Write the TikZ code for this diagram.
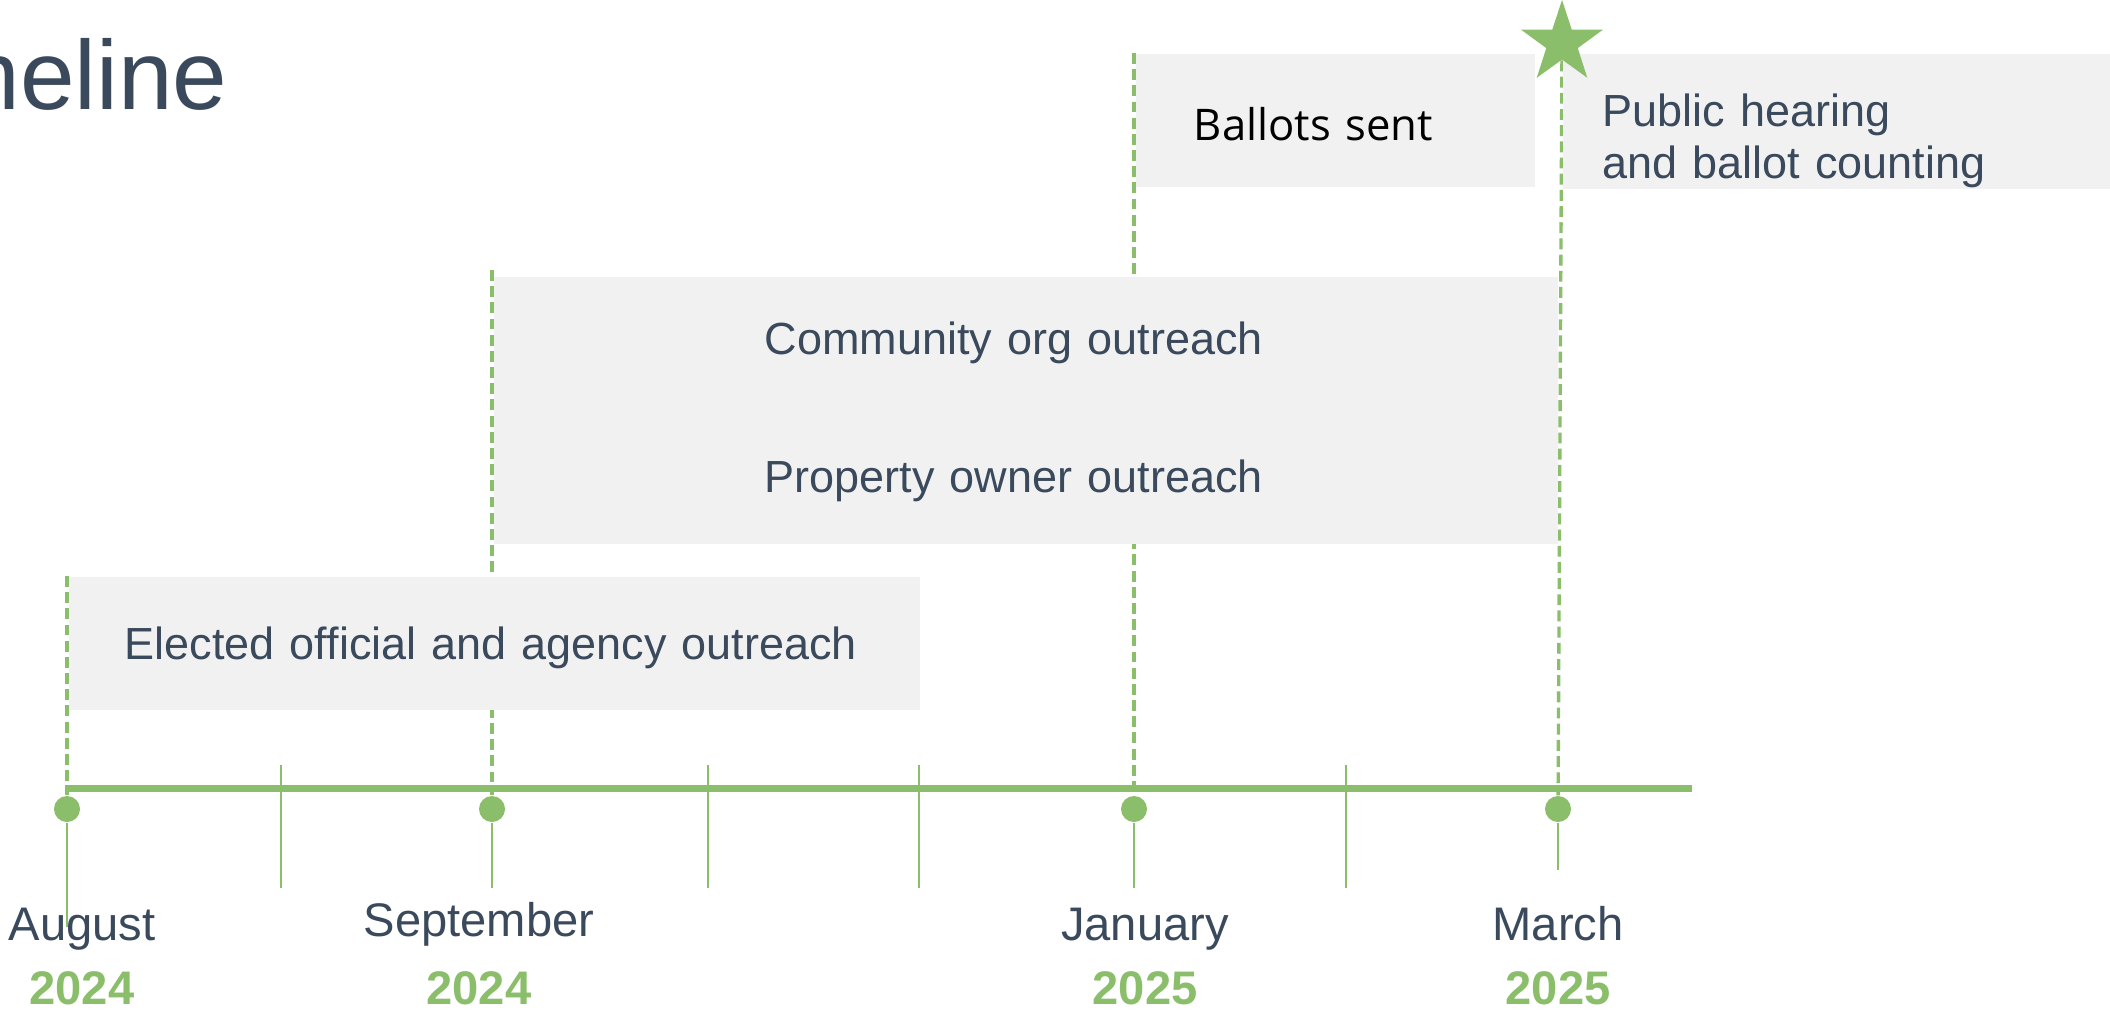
\documentclass[tikz,border=0pt]{standalone}
\usepackage{fontspec}
\setmainfont{Liberation Sans}
\newfontfamily\ballotfont{Open Sans}
\usetikzlibrary{shapes.geometric,backgrounds,positioning}

\definecolor{tlgreen}{HTML}{8BBE6A}
\definecolor{tltext}{HTML}{3A4A5C}
\definecolor{barfill}{HTML}{F1F1F1}
\def\bodyfont{\fontsize{12.8pt}{14.8pt}\selectfont}
\def\datefont{\fontsize{13.4pt}{16pt}\selectfont}
\def\datelbl#1#2#3#4#5{\node[monthlbl] (#1m) at (#2,#3) {#4}; \node[yearlbl] (#1y) at (#2,1004) {#5}}
\tikzstyle{bar}=[fill=barfill,anchor=north west,inner ysep=0pt,align=left,text=tltext,font=\bodyfont,text height=9.2pt,text depth=0pt]
\tikzstyle{guide}=[tlgreen,line width=0.95pt,dash pattern=on 3.1pt off 1.5pt]
\tikzstyle{tick}=[tlgreen,line width=0.71pt]
\tikzstyle{axisline}=[tlgreen,line width=2pt]
\tikzstyle{dot}=[circle,fill=tlgreen,minimum size=0.26cm,inner sep=0pt]
\tikzstyle{monthlbl}=[anchor=base,inner sep=0pt,text=tltext,font=\datefont]
\tikzstyle{yearlbl}=[anchor=base,inner sep=0pt,text=tlgreen,font=\datefont\bfseries]

\begin{document}
\begin{tikzpicture}[x=0.01cm,y=-0.01cm]
    \useasboundingbox (0,0) rectangle (2110,1009);
    \clip (0,0) rectangle (2110,1009);
    \node[anchor=base east,inner sep=0pt,text=tltext,font=\fontsize{27.9pt}{32pt}\selectfont] (title) at (228,109) {Timeline};

    % phases
    \node[bar,minimum width=8.51cm,minimum height=1.33cm,inner xsep=0.56cm,text width=7.39cm] (elect) at (68,576) {Elected official and agency outreach};
    \node[bar,minimum width=10.64cm,minimum height=1.33cm,inner xsep=2.71cm,text width=5.22cm,text depth=2.6pt] (comm) at (493,276) {Community org outreach};
    \node[bar,minimum width=10.64cm,minimum height=1.34cm,inner xsep=2.71cm,text width=5.22cm] (prop) at (493,409) {Property owner outreach};
    \node[bar,minimum width=3.99cm,minimum height=1.33cm,inner xsep=0.58cm,text width=2.83cm,text=black,font=\ballotfont\fontsize{12.4pt}{14.8pt}\selectfont,text height=11.4pt] (ballot) at (1135,53) {Ballots sent};
    \node[bar,minimum width=5.58cm,minimum height=1.35cm,inner xsep=0.40cm,text width=4.78cm,text depth=6pt] (hear) at (1562,53) {Public hearing\\and ballot counting};

    % time axis
    \coordinate (t0) at (65,788.5);
    \coordinate (t1) at (1692,788.5);
    \draw[axisline] (t0) -- (t1);
    \draw[tick] (281,765) -- (281,888);
    \draw[tick] (708,765) -- (708,888);
    \draw[tick] (919,765) -- (919,888);
    \draw[tick] (1346,765) -- (1346,888);
    \node[dot] (aug) at (67,809) {};
    \node[dot] (sep) at (492,809) {};
    \node[dot] (jan) at (1134,809) {};
    \node[dot] (mar) at (1558,809) {};
    \draw[tick] (aug) -- ++(0,118);
    \draw[tick] (sep) -- ++(0,79);
    \draw[tick] (jan) -- ++(0,79);
    \draw[tick] (mar) -- ++(0,61);
    \node[star,star points=5,star point ratio=2.6,fill=tlgreen,minimum size=0.86cm,inner sep=0pt] (goal) at (1562,43) {};

    \datelbl{aug}{82}{940}{August}{2024};
    \datelbl{sep}{479}{936}{September}{2024};
    \datelbl{jan}{1145}{940}{January}{2025};
    \datelbl{mar}{1558}{940}{March}{2025};

    \begin{scope}[on background layer]
      \fill[white] (0,0) rectangle (2110,1009);
      \draw[guide] (aug |- elect.north) -- (aug);
      \draw[guide,shorten <=-1.7pt] (sep |- comm.north) -- (sep);
      \draw[guide] (jan |- ballot.north) -- (jan);
      \draw[guide] (goal) -- (mar);
    \end{scope}
  \end{tikzpicture}
\end{document}
